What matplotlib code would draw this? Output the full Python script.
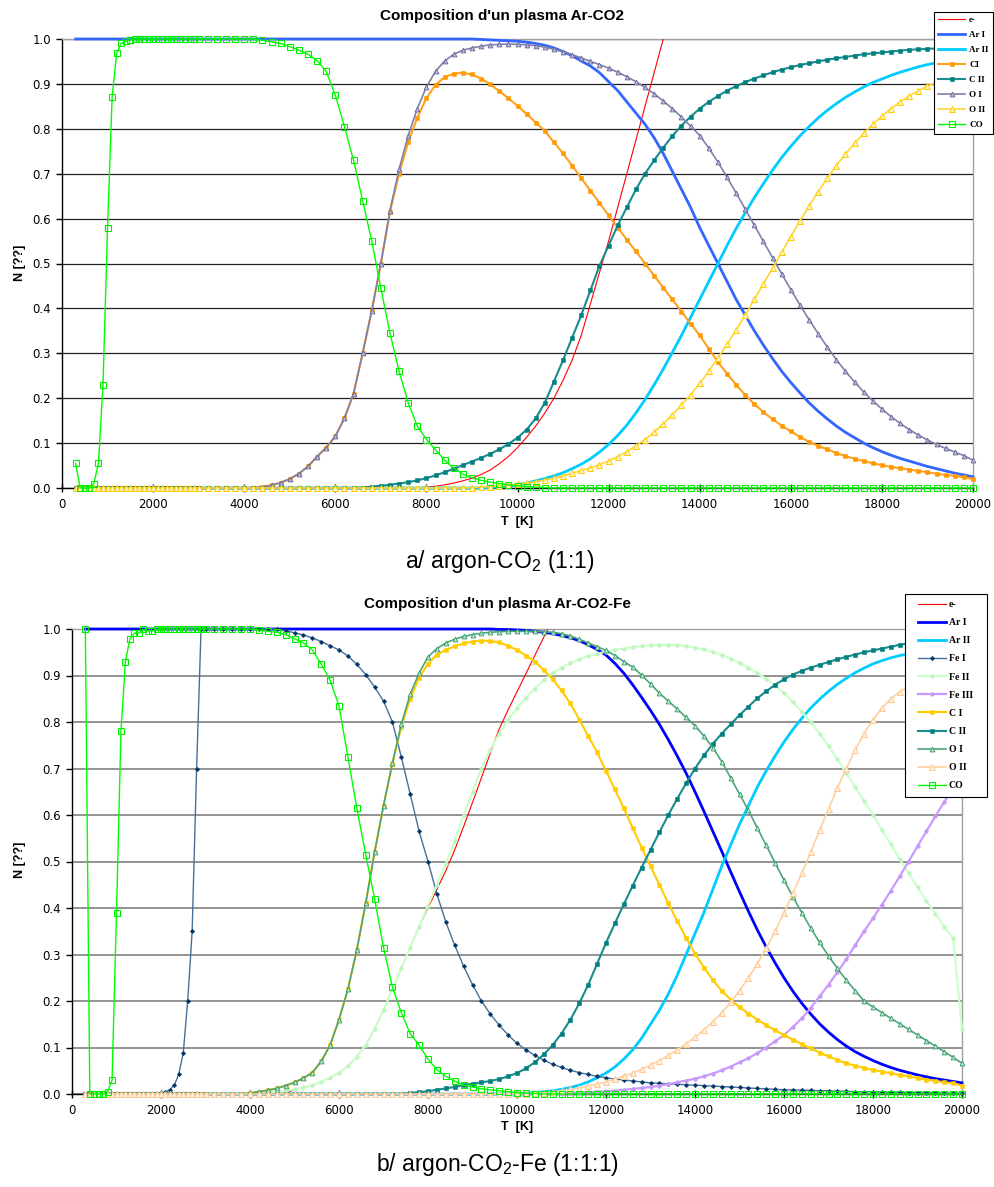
import numpy as np
import matplotlib
matplotlib.use("Agg")
import matplotlib.pyplot as plt
from matplotlib import font_manager
from matplotlib.patches import Rectangle
from matplotlib.ticker import FormatStrFormatter

# ---------------- DATA ----------------
# temperature grid [K]: 100 K steps up to 2900, then 200 K steps
T = np.array(list(range(300, 3000, 100)) + list(range(3000, 20001, 200)), dtype=float)

# ---- (a) Ar-CO2 ----
a_e = [0.0]*27 + [0.0]*25 + [
    0.002, 0.004, 0.007, 0.011, 0.016,
    0.022, 0.03, 0.04, 0.054, 0.07,
    0.09, 0.113, 0.138, 0.167, 0.2,
    0.24, 0.285, 0.34, 0.41, 0.48,
    0.55, 0.625, 0.7, 0.775, 0.85,
    0.925, 1.0, 1.075]
a_ArI = [1.0]*27 + [1.0]*31 + [
    0.999, 0.998, 0.997, 0.996,
    0.995, 0.993, 0.99, 0.986, 0.98,
    0.972, 0.963, 0.951, 0.94, 0.925,
    0.905, 0.885, 0.86, 0.835, 0.81,
    0.78, 0.745, 0.705, 0.665, 0.625,
    0.58, 0.54, 0.5, 0.46, 0.42,
    0.385, 0.35, 0.318, 0.288, 0.26,
    0.235, 0.212, 0.19, 0.171, 0.154,
    0.138, 0.124, 0.112, 0.1, 0.09,
    0.081, 0.073, 0.066, 0.06, 0.054,
    0.048, 0.043, 0.038, 0.033, 0.029,
    0.025]
a_ArII = [0.0]*27 + [0.0]*32 + [
    0.001, 0.002, 0.004,
    0.007, 0.011, 0.016, 0.021, 0.027,
    0.034, 0.043, 0.053, 0.065, 0.08,
    0.097, 0.117, 0.14, 0.167, 0.197,
    0.23, 0.265, 0.302, 0.34, 0.38,
    0.42, 0.46, 0.5, 0.54, 0.578,
    0.613, 0.647, 0.678, 0.708, 0.736,
    0.761, 0.784, 0.805, 0.824, 0.841,
    0.856, 0.87, 0.882, 0.893, 0.903,
    0.911, 0.919, 0.926, 0.932, 0.938,
    0.943, 0.947, 0.951, 0.955, 0.958,
    0.961]
a_CI = [0.0]*27 + [0.0]*7 + [
    0.003, 0.006, 0.012,
    0.02, 0.032, 0.048, 0.07, 0.09,
    0.115, 0.155, 0.21, 0.3, 0.395,
    0.5, 0.615, 0.7, 0.77, 0.825,
    0.868, 0.898, 0.915, 0.923, 0.925,
    0.921, 0.912, 0.899, 0.884, 0.868,
    0.851, 0.833, 0.814, 0.795, 0.77,
    0.745, 0.718, 0.69, 0.662, 0.635,
    0.607, 0.58, 0.553, 0.527, 0.5,
    0.473, 0.446, 0.42, 0.393, 0.366,
    0.34, 0.31, 0.28, 0.255, 0.23,
    0.207, 0.187, 0.169, 0.153, 0.139,
    0.126, 0.114, 0.103, 0.094, 0.086,
    0.078, 0.071, 0.065, 0.06, 0.055,
    0.051, 0.047, 0.044, 0.041, 0.038,
    0.035, 0.032, 0.029, 0.027, 0.024,
    0.02]
a_CII = [0.0]*27 + [0.0]*18 + [
    0.001, 0.003,
    0.005, 0.007, 0.01, 0.013, 0.017,
    0.022, 0.028, 0.035, 0.043, 0.051,
    0.059, 0.067, 0.076, 0.086, 0.098,
    0.112, 0.13, 0.155, 0.19, 0.237,
    0.285, 0.335, 0.385, 0.44, 0.495,
    0.54, 0.585, 0.625, 0.665, 0.7,
    0.73, 0.758, 0.784, 0.807, 0.827,
    0.845, 0.86, 0.873, 0.885, 0.895,
    0.904, 0.912, 0.919, 0.926, 0.932,
    0.937, 0.942, 0.946, 0.95, 0.954,
    0.957, 0.96, 0.963, 0.966, 0.968,
    0.97, 0.972, 0.974, 0.976, 0.977,
    0.978, 0.979, 0.98, 0.981, 0.982,
    0.983]
a_OI = [0.0]*27 + [0.0]*7 + [
    0.003, 0.006, 0.012,
    0.02, 0.032, 0.048, 0.07, 0.09,
    0.115, 0.155, 0.21, 0.3, 0.395,
    0.5, 0.618, 0.71, 0.785, 0.845,
    0.893, 0.928, 0.951, 0.966, 0.975,
    0.98, 0.984, 0.987, 0.988, 0.989,
    0.988, 0.987, 0.985, 0.982, 0.977,
    0.972, 0.965, 0.958, 0.95, 0.943,
    0.935, 0.926, 0.916, 0.905, 0.892,
    0.878, 0.862, 0.845, 0.826, 0.806,
    0.785, 0.757, 0.726, 0.692, 0.657,
    0.621, 0.585, 0.549, 0.513, 0.477,
    0.442, 0.408, 0.375, 0.344, 0.314,
    0.286, 0.26, 0.236, 0.214, 0.194,
    0.176, 0.159, 0.144, 0.13, 0.118,
    0.107, 0.097, 0.088, 0.08, 0.072,
    0.062]
a_OII = [0.0]*27 + [0.0]*30 + [
    0.001, 0.002, 0.003, 0.005, 0.007,
    0.009, 0.011, 0.014, 0.018, 0.022,
    0.027, 0.033, 0.039, 0.045, 0.052,
    0.06, 0.07, 0.081, 0.094, 0.108,
    0.124, 0.143, 0.163, 0.185, 0.208,
    0.233, 0.26, 0.29, 0.32, 0.352,
    0.385, 0.42, 0.455, 0.49, 0.525,
    0.56, 0.595, 0.627, 0.66, 0.69,
    0.718, 0.744, 0.768, 0.79, 0.81,
    0.828, 0.845, 0.86, 0.873, 0.885,
    0.895, 0.904, 0.912, 0.92, 0.927,
    0.933]
a_CO = [0.055, 0.0, 0.0, 0.0, 0.01, 0.055, 0.23, 0.58, 0.87, 0.968, 0.99, 0.995, 0.998] + [1.0]*14 + \
    [1.0]*7 + [
    0.997, 0.994, 0.99,
    0.983, 0.975, 0.966, 0.952, 0.928,
    0.875, 0.805, 0.73, 0.64, 0.55,
    0.445, 0.345, 0.26, 0.19, 0.138,
    0.108, 0.085, 0.062, 0.044, 0.031,
    0.023, 0.017, 0.013, 0.01, 0.007,
    0.005, 0.003, 0.002, 0.001, 0.0] + [0.0]*46

# ---- (b) Ar-CO2-Fe ----
b_e = [0.0]*27 + [0.0]*10 + [
    0.01, 0.014, 0.019, 0.026, 0.035,
    0.046, 0.06, 0.08, 0.105, 0.14,
    0.18, 0.225, 0.27, 0.315, 0.36,
    0.4, 0.44, 0.48, 0.525, 0.575,
    0.627, 0.68, 0.733, 0.785, 0.826,
    0.865, 0.904, 0.943, 0.982, 1.021]
b_ArI = [1.0]*27 + [1.0]*33 + [
    0.999, 0.999,
    0.998, 0.997, 0.995, 0.993, 0.99,
    0.986, 0.981, 0.975, 0.966, 0.956,
    0.944, 0.926, 0.905, 0.88, 0.853,
    0.825, 0.795, 0.762, 0.727, 0.69,
    0.65, 0.608, 0.565, 0.522, 0.478,
    0.435, 0.393, 0.353, 0.316, 0.282,
    0.25, 0.221, 0.195, 0.172, 0.151,
    0.133, 0.117, 0.103, 0.091, 0.081,
    0.072, 0.064, 0.057, 0.051, 0.046,
    0.041, 0.037, 0.033, 0.03, 0.027,
    0.024]
b_ArII = [0.0]*27 + [0.0]*35 + [
    0.001, 0.002, 0.003, 0.005, 0.007,
    0.01, 0.014, 0.019, 0.026, 0.035,
    0.045, 0.058, 0.075, 0.095, 0.12,
    0.15, 0.18, 0.215, 0.255, 0.3,
    0.345, 0.39, 0.44, 0.49, 0.535,
    0.58, 0.62, 0.66, 0.695, 0.727,
    0.757, 0.784, 0.808, 0.83, 0.849,
    0.866, 0.881, 0.894, 0.906, 0.916,
    0.925, 0.932, 0.938, 0.943, 0.946,
    0.948, 0.95, 0.952, 0.953, 0.954,
    0.955]
b_FeI = [0.0]*17 + [0.002, 0.005, 0.009, 0.019, 0.043, 0.088, 0.2, 0.35, 0.7, 1.0] + \
    [1.0]*9 + [
    0.996,
    0.992, 0.987, 0.981, 0.973, 0.964,
    0.955, 0.942, 0.924, 0.902, 0.875,
    0.845, 0.8, 0.725, 0.645, 0.565,
    0.5, 0.43, 0.37, 0.32, 0.275,
    0.235, 0.2, 0.172, 0.148, 0.127,
    0.109, 0.095, 0.083, 0.073, 0.064,
    0.057, 0.051, 0.046, 0.042, 0.038,
    0.035, 0.032, 0.03, 0.028, 0.026,
    0.024, 0.023, 0.022, 0.021, 0.02,
    0.019, 0.018, 0.017, 0.016, 0.015,
    0.014, 0.013, 0.012, 0.011, 0.01,
    0.009, 0.009, 0.008, 0.008, 0.007,
    0.007, 0.006, 0.006, 0.005, 0.005,
    0.005, 0.004, 0.004, 0.004, 0.003,
    0.003, 0.003, 0.003, 0.002, 0.002,
    0.002]
b_FeII = [0.0]*27 + [0.0]*5 + [
    0.001, 0.002, 0.003, 0.005, 0.007,
    0.01, 0.014, 0.019, 0.026, 0.035,
    0.046, 0.06, 0.08, 0.105, 0.14,
    0.18, 0.225, 0.27, 0.315, 0.36,
    0.405, 0.45, 0.495, 0.545, 0.6,
    0.65, 0.7, 0.74, 0.775, 0.805,
    0.83, 0.852, 0.872, 0.89, 0.905,
    0.917, 0.927, 0.935, 0.942, 0.947,
    0.951, 0.955, 0.958, 0.961, 0.963,
    0.965, 0.966, 0.966, 0.965, 0.963,
    0.96, 0.956, 0.951, 0.944, 0.936,
    0.927, 0.917, 0.905, 0.893, 0.878,
    0.862, 0.843, 0.822, 0.8, 0.775,
    0.748, 0.72, 0.69, 0.66, 0.63,
    0.6, 0.568, 0.537, 0.505, 0.475,
    0.445, 0.415, 0.388, 0.36, 0.335,
    0.14]
b_FeIII = [0.0]*27 + [0.0]*40 + [
    0.001, 0.002, 0.003, 0.004, 0.005,
    0.006, 0.007, 0.009, 0.011, 0.013,
    0.015, 0.018, 0.021, 0.025, 0.029,
    0.033, 0.038, 0.044, 0.051, 0.059,
    0.068, 0.077, 0.088, 0.1, 0.113,
    0.127, 0.144, 0.163, 0.185, 0.21,
    0.235, 0.262, 0.29, 0.32, 0.35,
    0.378, 0.407, 0.437, 0.468, 0.5,
    0.533, 0.565, 0.597, 0.628, 0.658,
    0.685]
b_CI = [0.0]*27 + [0.0]*5 + [
    0.002, 0.005, 0.008, 0.012, 0.018,
    0.025, 0.034, 0.046, 0.07, 0.105,
    0.16, 0.225, 0.31, 0.41, 0.52,
    0.62, 0.71, 0.79, 0.85, 0.895,
    0.925, 0.945, 0.955, 0.963, 0.969,
    0.973, 0.975, 0.974, 0.971, 0.964,
    0.955, 0.943, 0.93, 0.912, 0.892,
    0.868, 0.84, 0.805, 0.77, 0.735,
    0.695, 0.655, 0.615, 0.572, 0.53,
    0.49, 0.45, 0.41, 0.372, 0.336,
    0.302, 0.272, 0.245, 0.222, 0.203,
    0.187, 0.173, 0.16, 0.148, 0.137,
    0.127, 0.117, 0.107, 0.098, 0.089,
    0.081, 0.073, 0.066, 0.061, 0.056,
    0.052, 0.048, 0.045, 0.041, 0.038,
    0.034, 0.031, 0.028, 0.025, 0.023,
    0.018]
b_CII = [0.0]*27 + [0.0]*23 + [
    0.002, 0.004,
    0.006, 0.009, 0.012, 0.015, 0.019,
    0.022, 0.025, 0.028, 0.032, 0.038,
    0.045, 0.055, 0.068, 0.085, 0.105,
    0.13, 0.16, 0.195, 0.235, 0.28,
    0.325, 0.367, 0.408, 0.448, 0.487,
    0.525, 0.563, 0.6, 0.635, 0.668,
    0.7, 0.728, 0.753, 0.775, 0.795,
    0.815, 0.833, 0.851, 0.866, 0.88,
    0.892, 0.902, 0.91, 0.917, 0.923,
    0.929, 0.935, 0.94, 0.945, 0.95,
    0.954, 0.958, 0.962, 0.966, 0.969,
    0.972, 0.974, 0.976, 0.978, 0.98,
    0.982]
b_OI = [0.0]*27 + [0.0]*5 + [
    0.002, 0.005, 0.008, 0.012, 0.018,
    0.025, 0.034, 0.046, 0.07, 0.105,
    0.16, 0.225, 0.31, 0.41, 0.52,
    0.62, 0.712, 0.795, 0.86, 0.905,
    0.94, 0.958, 0.97, 0.978, 0.984,
    0.988, 0.991, 0.993, 0.994, 0.995,
    0.995, 0.995, 0.995, 0.994, 0.993,
    0.99, 0.985, 0.978, 0.97, 0.962,
    0.954, 0.943, 0.93, 0.918, 0.901,
    0.882, 0.862, 0.845, 0.828, 0.81,
    0.792, 0.77, 0.745, 0.715, 0.68,
    0.645, 0.61, 0.572, 0.535, 0.497,
    0.46, 0.424, 0.39, 0.357, 0.326,
    0.297, 0.27, 0.245, 0.222, 0.2,
    0.187, 0.175, 0.163, 0.151, 0.139,
    0.127, 0.115, 0.103, 0.091, 0.079,
    0.066]
b_OII = [0.0]*27 + [0.0]*35 + [
    0.0, 0.001, 0.002, 0.003, 0.005,
    0.007, 0.01, 0.013, 0.017, 0.021,
    0.026, 0.032, 0.038, 0.045, 0.053,
    0.062, 0.072, 0.083, 0.095, 0.108,
    0.122, 0.138, 0.155, 0.175, 0.197,
    0.222, 0.25, 0.28, 0.313, 0.35,
    0.39, 0.432, 0.475, 0.52, 0.567,
    0.613, 0.658, 0.7, 0.74, 0.775,
    0.805, 0.83, 0.85, 0.865, 0.876,
    0.884, 0.89, 0.894, 0.897, 0.899,
    0.9]
b_CO = [1.0, 0.0, 0.0, 0.0, 0.0, 0.005, 0.03, 0.39, 0.78, 0.93, 0.978, 0.991, 0.991,
        0.999, 0.996, 0.996, 0.999] + [1.0]*10 + \
    [1.0]*6 + [
    0.998, 0.995, 0.993, 0.988,
    0.979, 0.97, 0.955, 0.925, 0.89,
    0.835, 0.725, 0.615, 0.515, 0.42,
    0.315, 0.23, 0.175, 0.13, 0.105,
    0.075, 0.052, 0.038, 0.028, 0.019,
    0.015, 0.011, 0.009, 0.007, 0.005,
    0.003, 0.002, 0.001] + [0.0]*48

labels_a = ["e-", "Ar I", "Ar II", "CI", "C II", "O I", "O II", "CO"]
series_a = [a_e, a_ArI, a_ArII, a_CI, a_CII, a_OI, a_OII, a_CO]
labels_b = ["e-", "Ar I", "Ar II", "Fe I", "Fe II", "Fe III", "C I", "C II", "O I", "O II", "CO"]
series_b = [b_e, b_ArI, b_ArII, b_FeI, b_FeII, b_FeIII, b_CI, b_CII, b_OI, b_OII, b_CO]

x_ticks = list(range(0, 20001, 2000))
y_ticks = [round(0.1 * i, 1) for i in range(11)]

# ---------------- STYLES ----------------
styles_a = [
    dict(color='#FF0000', lw=0.8),
    dict(color='#3366FF', lw=2.0),
    dict(color='#00CCFF', lw=2.0),
    dict(color='#FFA020', lw=1.5, marker='s', ms=2.8, mfc='#FF9900', mec='#FF9900', mew=0.4),
    dict(color='#1A8C8C', lw=1.5, marker='s', ms=2.8, mfc='#008080', mec='#008080', mew=0.4),
    dict(color='#8080AA', lw=1.2, marker='^', ms=3.5, mfc='#B8B8DC', mec='#666699', mew=0.6),
    dict(color='#FFD633', lw=1.2, marker='^', ms=3.7, mfc='#FFF4C0', mec='#FFCC00', mew=0.7),
    dict(color='#00FF00', lw=1.0, marker='s', ms=3.9, mfc='none', mec='#00EE00', mew=0.8),
]
styles_b = [
    dict(color='#FF0000', lw=0.8),
    dict(color='#0000FF', lw=2.0),
    dict(color='#00CCFF', lw=2.0),
    dict(color='#46709A', lw=1.0, marker='D', ms=2.3, mfc='#003366', mec='#003366', mew=0.3),
    dict(color='#CCFFCC', lw=1.6, marker='o', ms=2.7, mfc='#BFF5BF', mec='#BFF5BF', mew=0.3),
    dict(color='#CC99FF', lw=1.6, marker='o', ms=2.7, mfc='#C59AF5', mec='#C59AF5', mew=0.3),
    dict(color='#FFCC00', lw=1.5, marker='s', ms=2.8, mfc='#FFCC00', mec='#FFCC00', mew=0.4),
    dict(color='#1A8C8C', lw=1.5, marker='s', ms=2.8, mfc='#008080', mec='#008080', mew=0.4),
    dict(color='#4DA67A', lw=1.2, marker='^', ms=3.5, mfc='#BFE5D0', mec='#339966', mew=0.6),
    dict(color='#FFD0A0', lw=1.2, marker='^', ms=3.7, mfc='#FFF0E0', mec='#FFC890', mew=0.7),
    dict(color='#00FF00', lw=1.0, marker='s', ms=3.9, mfc='none', mec='#00EE00', mew=0.8),
]

names = {f.name for f in font_manager.fontManager.ttflist}
cap_font = 'Liberation Sans Narrow' if 'Liberation Sans Narrow' in names else 'Liberation Sans'
cap_size = 19.5 if cap_font == 'Liberation Sans Narrow' else 16.5

W, H = 994, 1187
fig = plt.figure(figsize=(W / 100, H / 100), dpi=100)
fig.patch.set_facecolor('white')


def fx(px):
    return px / W


def fy(py):
    return 1 - py / H


def setup(ax, gridcolor, gridlw):
    ax.set_xlim(0, 20000)
    ax.set_ylim(0, 1.0)
    ax.set_xticks(x_ticks)
    ax.set_yticks(y_ticks)
    ax.yaxis.set_major_formatter(FormatStrFormatter('%.1f'))
    ax.grid(axis='y', color=gridcolor, lw=gridlw)
    ax.grid(axis='x', visible=False)
    ax.set_axisbelow(True)
    ax.spines['left'].set_color('black')
    ax.spines['bottom'].set_color('black')
    ax.spines['top'].set_color('#A0A0A0')
    ax.spines['right'].set_color('#A0A0A0')
    for s in ax.spines.values():
        s.set_linewidth(1.0)
    ax.tick_params(axis='y', direction='out', length=4, width=1, labelsize=8.5, pad=4)
    ax.tick_params(axis='x', direction='inout', length=6, width=1, labelsize=8.5, pad=4)
    for lab in ax.get_xticklabels() + ax.get_yticklabels():
        lab.set_family('DejaVu Sans')


def draw(ax, series, labels, styles):
    handles = []
    for i, (vals, lab, st) in enumerate(zip(series, labels, styles)):
        n = min(len(vals), len(T))
        clip = (lab == 'e-')
        ln, = ax.plot(T[:n], vals[:n], label=lab, zorder=3 + i * 0.1, clip_on=clip, **st)
        handles.append(ln)
    return handles


ax1 = fig.add_axes([fx(62), fy(488), fx(973) - fx(62), fy(39) - fy(488)])
setup(ax1, '#202020', 0.9)
h1 = draw(ax1, series_a, labels_a, styles_a)

ax2 = fig.add_axes([fx(72), fy(1094), fx(962) - fx(72), fy(629) - fy(1094)])
setup(ax2, '#808080', 1.2)
h2 = draw(ax2, series_b, labels_b, styles_b)

# legends with opaque boxes
r1 = Rectangle((fx(934), fy(134)), fx(993) - fx(934), fy(12) - fy(134), transform=fig.transFigure,
               facecolor='white', edgecolor='black', lw=0.8, zorder=10)
fig.add_artist(r1)
leg1 = fig.legend(h1, labels_a, loc='upper left', bbox_to_anchor=(fx(938), fy(15.8)),
                  frameon=False, borderpad=0, borderaxespad=0, handlelength=3.0,
                  handletextpad=0.45, labelspacing=0.74,
                  prop=dict(family='Liberation Serif', size=6.5, weight='bold'))
leg1.set_zorder(11)

r2 = Rectangle((fx(905), fy(797)), fx(987) - fx(905), fy(594) - fy(797), transform=fig.transFigure,
               facecolor='white', edgecolor='black', lw=0.8, zorder=10)
fig.add_artist(r2)
leg2 = fig.legend(h2, labels_b, loc='upper left', bbox_to_anchor=(fx(918), fy(600)),
                  frameon=False, borderpad=0, borderaxespad=0, handlelength=2.9,
                  handletextpad=0.25, labelspacing=0.94,
                  prop=dict(family='Liberation Serif', size=7, weight='bold'))
leg2.set_zorder(11)

# texts
fig.text(fx(502), fy(16), "Composition d'un plasma Ar-CO2", ha='center', va='center',
         fontsize=11, fontweight='bold', family='Liberation Sans')
fig.text(fx(497), fy(604), "Composition d'un plasma Ar-CO2-Fe", ha='center', va='center',
         fontsize=11, fontweight='bold', family='Liberation Sans')
fig.text(fx(20), fy(263), "N [??]", rotation=90, ha='center', va='center',
         fontsize=9, fontweight='bold', family='Liberation Sans')
fig.text(fx(20), fy(860), "N [??]", rotation=90, ha='center', va='center',
         fontsize=9, fontweight='bold', family='Liberation Sans')
fig.text(fx(517), fy(522), "T  [K]", ha='center', va='center',
         fontsize=9, fontweight='bold', family='Liberation Sans')
fig.text(fx(517), fy(1127), "T  [K]", ha='center', va='center',
         fontsize=9, fontweight='bold', family='Liberation Sans')
fig.text(fx(500), fy(562), r"a/ argon-CO$_\mathregular{2}$ (1:1)", ha='center', va='center',
         fontsize=cap_size, family=cap_font)
fig.text(fx(497), fy(1165), r"b/ argon-CO$_\mathregular{2}$-Fe (1:1:1)", ha='center', va='center',
         fontsize=cap_size, family=cap_font)

fig.savefig("out.png", dpi=100, facecolor='white')
